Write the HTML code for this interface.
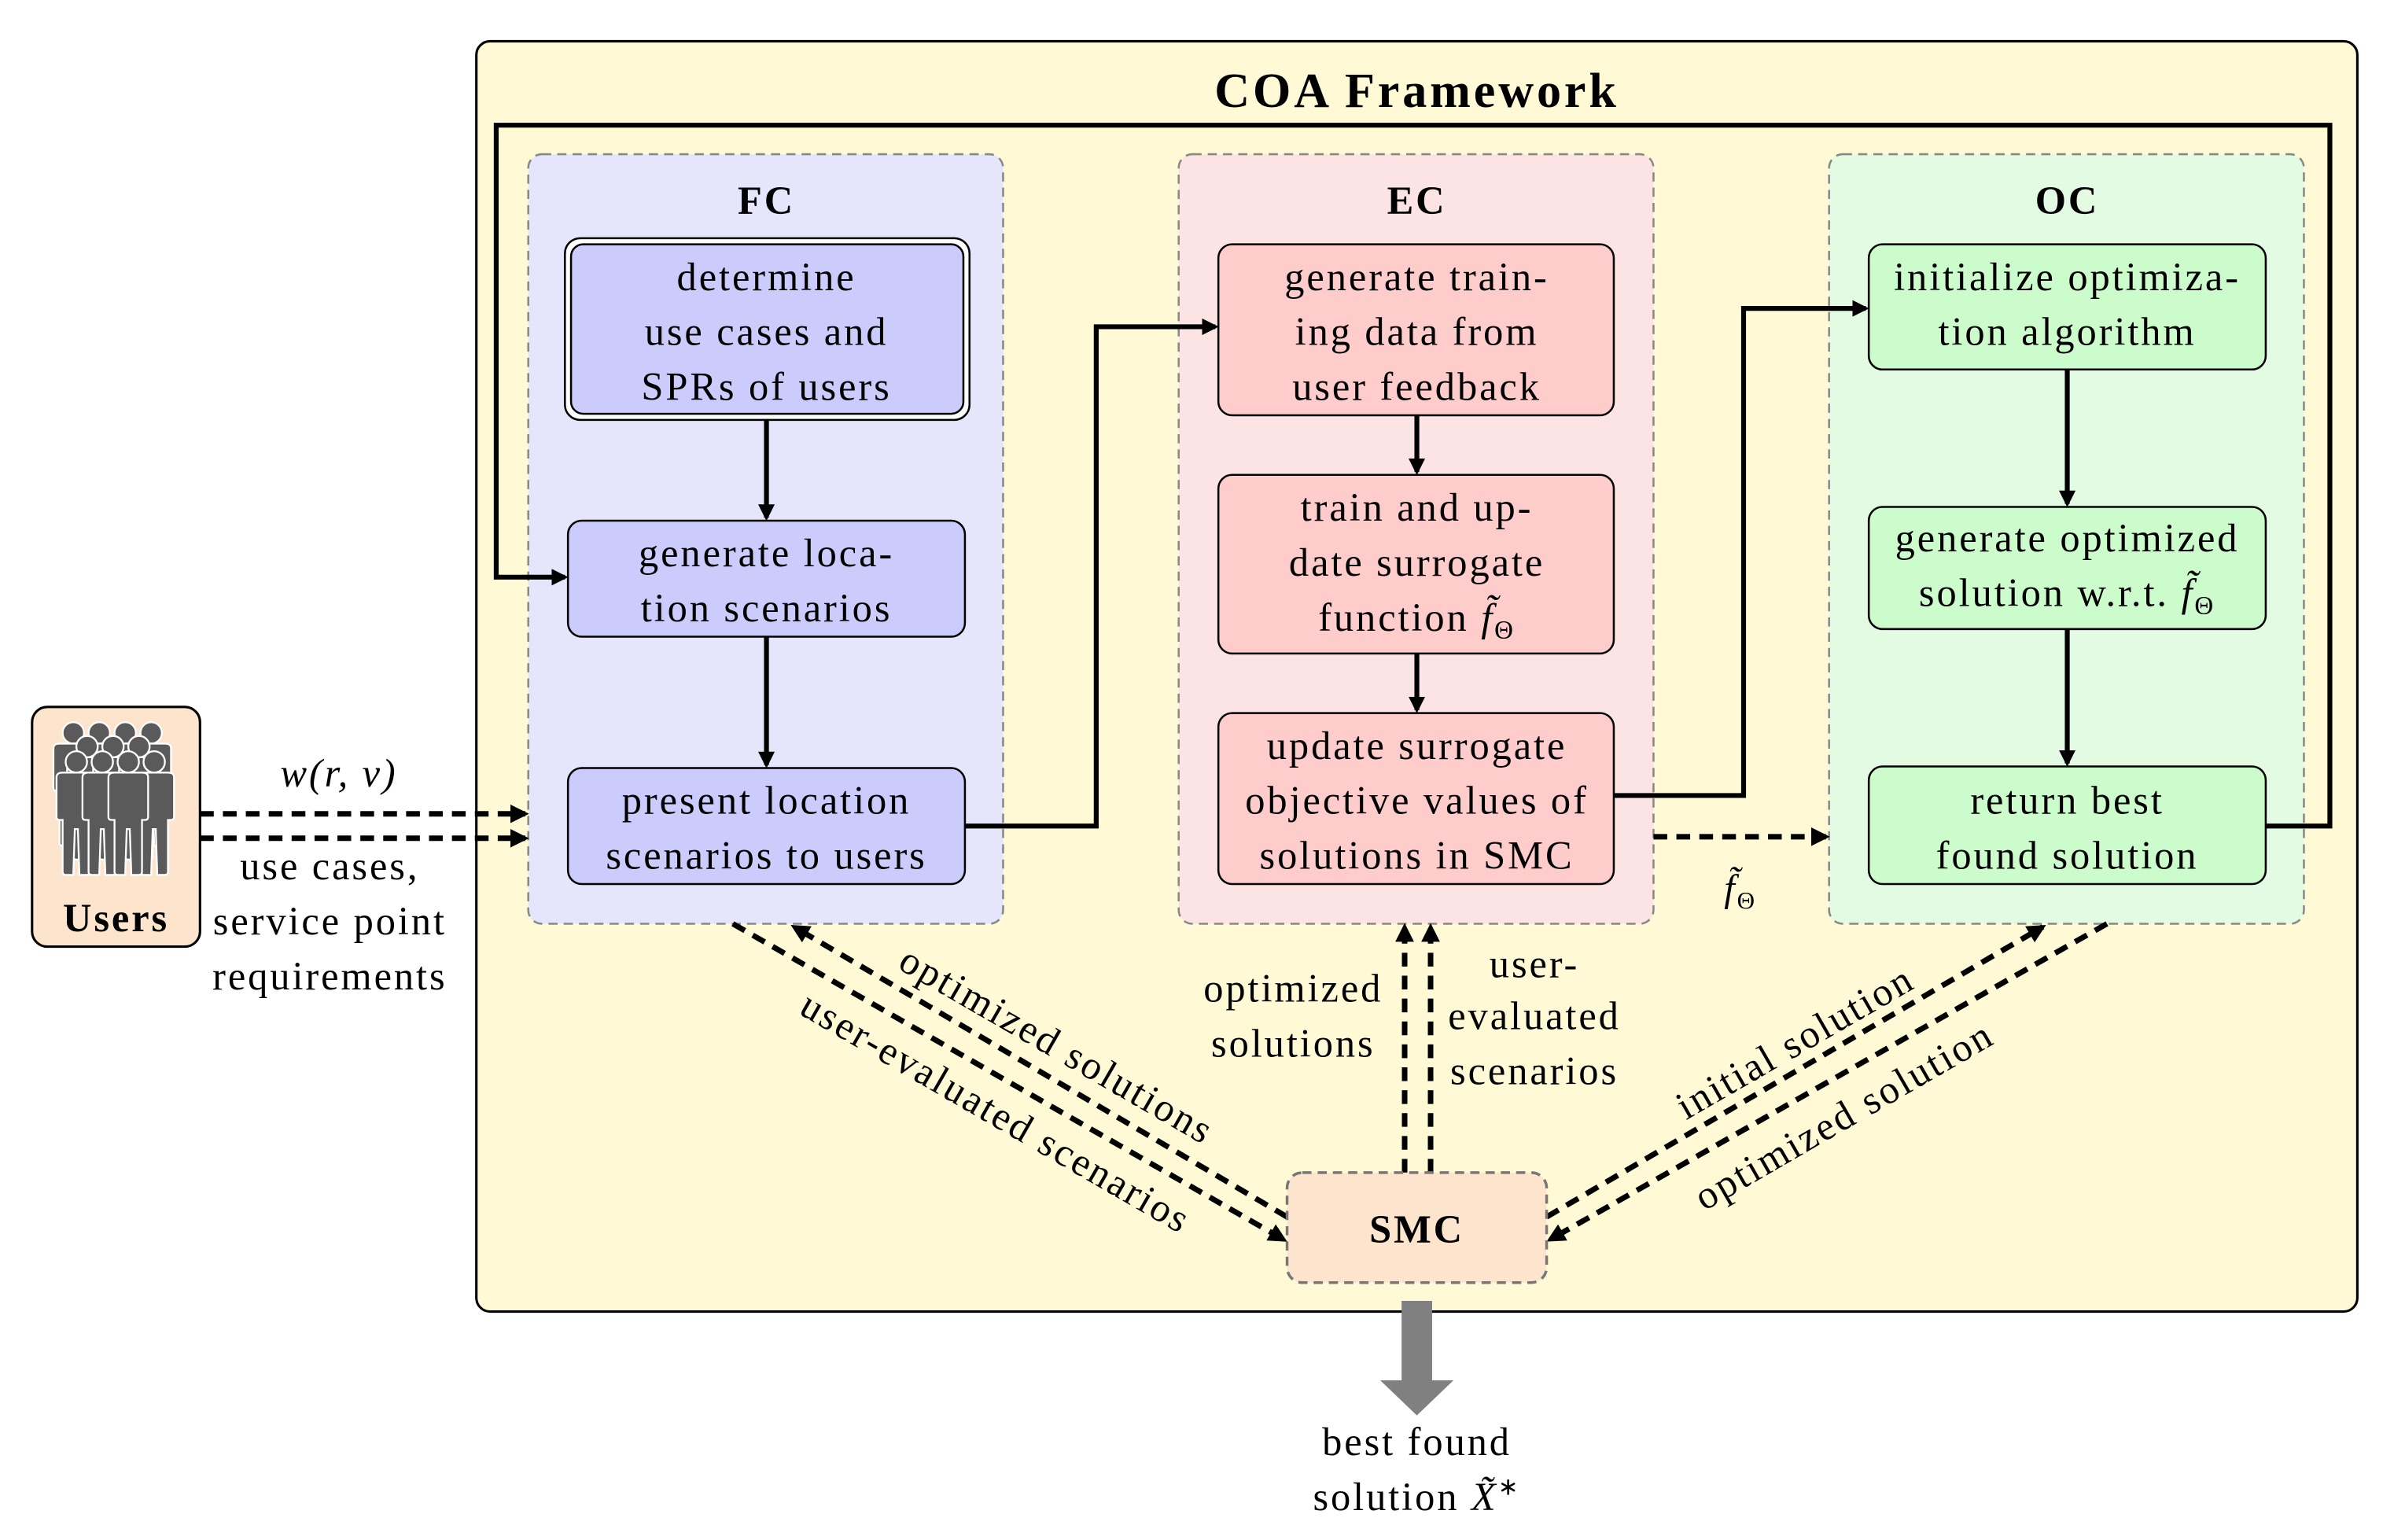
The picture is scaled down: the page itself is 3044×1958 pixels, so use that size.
<!DOCTYPE html>
<html><head><meta charset="utf-8"><style>
html,body{margin:0;padding:0;background:#fff}
svg{display:block}
text{font-family:"Liberation Serif",serif;fill:#000;letter-spacing:1.5px}
</style></head><body>
<svg width="3044" height="1958" viewBox="0 0 1568 1008.6" xmlns="http://www.w3.org/2000/svg">
<defs>
<marker id="ah" viewBox="0 0 10 10" refX="8" refY="5" markerWidth="3.4" markerHeight="3.4" orient="auto"><path d="M0,0 L10,5 L0,10 z" fill="#000"/></marker>
<g id="p">
<circle cx="0" cy="0" r="7" fill="#5a5a5a" stroke="#fff" stroke-width="1.2"/>
<path d="M-13,10 Q-13,7 -9,7 L9,7 Q13,7 13,10 L13,36 Q13,38 11,38 L9,38 L9,72 Q9,74 7,74 L2,74 L1,44 L-1,44 L-2,74 L-7,74 Q-9,74 -9,72 L-9,38 L-11,38 Q-13,38 -13,36 Z" fill="#5a5a5a" stroke="#fff" stroke-width="1.2"/>
</g>
</defs>

<rect x="312" y="27" width="1232" height="832" rx="9" fill="#fffad5" stroke="#000" stroke-width="1.6"/>
<text x="928" y="70" font-size="32" font-weight="bold" text-anchor="middle" style="letter-spacing:2px">COA Framework</text>

<rect x="346" y="101" width="311" height="504" rx="9" fill="#e5e5fb" stroke="#888" stroke-width="1.3" stroke-dasharray="6,4"/>
<rect x="772" y="101" width="311" height="504" rx="9" fill="#fde4e4" stroke="#888" stroke-width="1.3" stroke-dasharray="6,4"/>
<rect x="1198" y="101" width="311" height="504" rx="9" fill="#e3fbe3" stroke="#888" stroke-width="1.3" stroke-dasharray="6,4"/>
<text x="502" y="140" font-size="26" font-weight="bold" text-anchor="middle">FC</text>
<text x="928" y="140" font-size="26" font-weight="bold" text-anchor="middle">EC</text>
<text x="1354" y="140" font-size="26" font-weight="bold" text-anchor="middle">OC</text>

<polyline points="1484,541 1526,541 1526,82 325,82 325,378 370,378" fill="none" stroke="#000" stroke-width="3.2" marker-end="url(#ah)"/>

<g font-size="26" text-anchor="middle">
<rect x="370" y="156" width="265" height="119" rx="10" fill="#fff" stroke="#000" stroke-width="1.3"/>
<rect x="374" y="160" width="257" height="111" rx="8" fill="#ccccfc" stroke="#000" stroke-width="1.3"/>
<text x="502" y="190">determine</text><text x="502" y="226">use cases and</text><text x="502" y="262">SPRs of users</text>
<rect x="372" y="341" width="260" height="76" rx="9" fill="#ccccfc" stroke="#000" stroke-width="1.3"/>
<text x="502" y="371">generate loca-</text><text x="502" y="407">tion scenarios</text>
<rect x="372" y="503" width="260" height="76" rx="9" fill="#ccccfc" stroke="#000" stroke-width="1.3"/>
<text x="502" y="533">present location</text><text x="502" y="569">scenarios to users</text>

<rect x="798" y="160" width="259" height="112" rx="9" fill="#ffcccc" stroke="#000" stroke-width="1.3"/>
<text x="928" y="190">generate train-</text><text x="928" y="226">ing data from</text><text x="928" y="262">user feedback</text>
<rect x="798" y="311" width="259" height="117" rx="9" fill="#ffcccc" stroke="#000" stroke-width="1.3"/>
<text x="928" y="341">train and up-</text><text x="928" y="377">date surrogate</text><text x="928" y="413">function <tspan font-style="italic">f̃</tspan><tspan font-size="17" dy="5">Θ</tspan></text>
<rect x="798" y="467" width="259" height="112" rx="9" fill="#ffcccc" stroke="#000" stroke-width="1.3"/>
<text x="928" y="497">update surrogate</text><text x="928" y="533">objective values of</text><text x="928" y="569">solutions in SMC</text>

<rect x="1224" y="160" width="260" height="82" rx="9" fill="#ccfccc" stroke="#000" stroke-width="1.3"/>
<text x="1354" y="190">initialize optimiza-</text><text x="1354" y="226">tion algorithm</text>
<rect x="1224" y="332" width="260" height="80" rx="9" fill="#ccfccc" stroke="#000" stroke-width="1.3"/>
<text x="1354" y="361">generate optimized</text><text x="1354" y="397">solution w.r.t. <tspan font-style="italic">f̃</tspan><tspan font-size="17" dy="5">Θ</tspan></text>
<rect x="1224" y="502" width="260" height="77" rx="9" fill="#ccfccc" stroke="#000" stroke-width="1.3"/>
<text x="1354" y="533">return best</text><text x="1354" y="569">found solution</text>
</g>

<g stroke="#000" stroke-width="3.2" fill="none" marker-end="url(#ah)">
<line x1="502" y1="275" x2="502" y2="339"/>
<line x1="502" y1="417" x2="502" y2="501"/>
<line x1="928" y1="272" x2="928" y2="309"/>
<line x1="928" y1="428" x2="928" y2="465"/>
<line x1="1354" y1="242" x2="1354" y2="330"/>
<line x1="1354" y1="412" x2="1354" y2="500"/>
<polyline points="632,541 718,541 718,214 796,214"/>
<polyline points="1057,521 1142,521 1142,202 1222,202"/>
</g>

<g stroke="#000" stroke-width="3.6" fill="none" stroke-dasharray="9,6" marker-end="url(#ah)">
<line x1="1083" y1="548" x2="1196" y2="548"/>
<line x1="131" y1="533" x2="344" y2="533"/>
<line x1="131" y1="549" x2="344" y2="549"/>
<line x1="920" y1="768" x2="920" y2="607"/>
<line x1="937" y1="768" x2="937" y2="607"/>
<line x1="480" y1="605" x2="841" y2="812"/>
<line x1="843" y1="797" x2="520" y2="607"/>
<line x1="1013" y1="797" x2="1338" y2="607"/>
<line x1="1380" y1="605" x2="1015" y2="812"/>
</g>

<text x="1140" y="590" font-size="25" text-anchor="middle"><tspan font-style="italic">f̃</tspan><tspan font-size="16" dy="5">Θ</tspan></text>

<rect x="21" y="463" width="110" height="157" rx="10" fill="#fde4cc" stroke="#000" stroke-width="1.6"/>
<use href="#p" transform="translate(48,480)"/>
<use href="#p" transform="translate(65,480)"/>
<use href="#p" transform="translate(82,480)"/>
<use href="#p" transform="translate(99,480)"/>
<use href="#p" transform="translate(57,489)"/>
<use href="#p" transform="translate(74,489)"/>
<use href="#p" transform="translate(91,489)"/>
<use href="#p" transform="translate(50,499)"/>
<use href="#p" transform="translate(67,499)"/>
<use href="#p" transform="translate(101,499)"/>
<use href="#p" transform="translate(84,499)"/>
<text x="76" y="610" font-size="26" font-weight="bold" text-anchor="middle">Users</text>

<g font-size="26" text-anchor="middle">
<text x="222" y="515" font-style="italic">w(r, v)</text>
<text x="216" y="576">use cases,</text>
<text x="216" y="612">service point</text>
<text x="216" y="648">requirements</text>
<text x="847" y="656">optimized</text>
<text x="847" y="692">solutions</text>
<text x="1005" y="640">user-</text>
<text x="1005" y="674">evaluated</text>
<text x="1005" y="710">scenarios</text>
<text transform="translate(688,692) rotate(30)">optimized solutions</text>
<text transform="translate(648,736) rotate(30)">user-evaluated scenarios</text>
<text transform="translate(1180,690) rotate(-30)">initial solution</text>
<text transform="translate(1212,738) rotate(-30)">optimized solution</text>
</g>

<rect x="843" y="768" width="170" height="72" rx="10" fill="#fde4cc" stroke="#777" stroke-width="1.8" stroke-dasharray="6,4"/>
<text x="928" y="814" font-size="26" font-weight="bold" text-anchor="middle">SMC</text>

<path d="M918,852 L938,852 L938,904 L952,904 L928,927 L904,904 L918,904 Z" fill="#808080"/>
<text x="928" y="953" font-size="26" text-anchor="middle">best found</text>
<text x="928" y="989" font-size="26" text-anchor="middle">solution <tspan font-style="italic">X̃</tspan><tspan font-size="16" dy="-10">∗</tspan></text>
</svg>
</body></html>
